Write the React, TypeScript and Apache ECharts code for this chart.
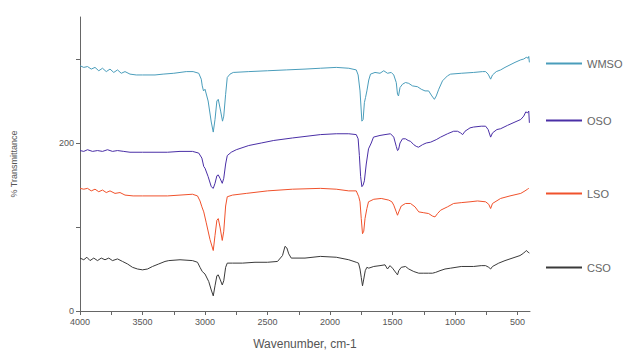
import React, { useEffect, useRef } from "react";
import * as echarts from "echarts";

const seriesNames = ["WMSO", "OSO", "LSO", "CSO"];
const xTickValues = [4000, 3750, 3500, 3250, 3000, 2750, 2500, 2250, 2000, 1750, 1500, 1250, 1000, 750, 500];
const xLabelValues = [4000, 3500, 3000, 2500, 2000, 1500, 1000, 500];
const yTickValues = [0, 100, 200, 300];
const yLabelValues = [0, 200];

const wmso: number[][] = [[4000,292],[3970,290],[3940,291],[3910,288],[3880,290],[3850,286],[3820,289],[3790,285],[3760,288],[3730,284],[3700,287],[3670,283],[3640,285],[3600,282],[3550,281],[3500,281],[3400,281],[3335,282],[3250,283],[3150,285],[3095,285],[3050,283],[3030,276],[3022,268],[3012,262],[3000,264],[2975,250],[2950,225],[2934,213],[2920,228],[2905,250],[2894,252],[2875,238],[2860,226],[2850,232],[2835,258],[2822,278],[2800,282],[2774,284],[2650,285],[2500,286],[2350,287],[2200,288],[2077,289],[1950,290],[1850,289],[1790,287],[1775,281],[1760,262],[1745,226],[1735,228],[1725,248],[1716,254],[1705,262],[1690,275],[1676,282],[1640,284],[1600,283],[1570,286],[1540,283],[1510,284],[1490,281],[1470,272],[1460,258],[1452,256],[1440,266],[1420,270],[1396,272],[1370,271],[1340,268],[1300,267],[1270,264],[1240,262],[1211,262],[1185,256],[1165,252],[1150,256],[1130,264],[1100,274],[1060,280],[1035,282],[950,283],[851,284],[780,285],[755,285],[735,282],[715,276],[700,281],[670,285],[635,287],[600,290],[560,293],[520,296],[474,299],[450,300],[430,302],[415,301],[410,303],[405,296]];

const oso: number[][] = [[4000,191],[3970,190],[3940,192],[3900,190],[3860,191],[3820,190],[3780,192],[3740,190],[3700,191],[3650,190],[3600,189],[3500,189],[3400,189],[3300,189],[3200,190],[3100,190],[3050,188],[3025,182],[3010,172],[3000,170],[2975,160],[2950,148],[2934,146],[2920,152],[2905,161],[2894,162],[2880,158],[2862,152],[2850,158],[2835,175],[2822,185],[2790,189],[2750,192],[2650,197],[2550,200],[2450,203],[2300,206],[2077,210],[1950,211],[1850,211],[1790,210],[1775,205],[1765,185],[1755,160],[1745,148],[1735,150],[1725,155],[1710,175],[1692,193],[1670,200],[1652,207],[1600,209],[1560,210],[1516,211],[1490,207],[1470,196],[1460,191],[1452,192],[1440,200],[1420,205],[1396,205],[1375,203],[1356,202],[1330,198],[1310,196],[1292,195],[1260,198],[1230,200],[1195,201],[1150,204],[1115,207],[1060,211],[1011,214],[980,214],[955,212],[939,210],[920,214],[880,218],[851,219],[790,220],[755,220],[735,216],[715,207],[700,212],[665,216],[635,217],[580,221],[520,225],[474,228],[450,232],[434,237],[420,236],[410,238],[405,224]];

const lso: number[][] = [[4000,146],[3970,145],[3940,146],[3910,143],[3880,145],[3850,142],[3820,144],[3790,141],[3760,143],[3720,140],[3680,141],[3640,138],[3575,137],[3500,137],[3400,137],[3300,137],[3200,138],[3100,139],[3060,137],[3040,131],[3025,124],[3010,118],[2990,105],[2960,85],[2934,72],[2920,90],[2905,108],[2894,110],[2880,100],[2862,84],[2850,95],[2835,125],[2822,136],[2780,138],[2670,140],[2500,143],[2300,145],[2077,146],[1950,145],[1850,143],[1790,143],[1770,136],[1760,130],[1750,110],[1740,92],[1730,95],[1720,110],[1705,122],[1692,130],[1650,133],[1590,134],[1530,132],[1505,130],[1490,126],[1470,118],[1460,114],[1450,118],[1430,125],[1396,128],[1356,128],[1320,124],[1290,118],[1250,117],[1211,116],[1180,113],[1160,112],[1140,116],[1115,120],[1060,124],[1011,128],[950,129],[880,130],[820,131],[755,130],[730,127],[715,122],[700,128],[635,134],[560,137],[474,140],[440,143],[420,145],[410,146]];

const cso: number[][] = [[4000,63],[3970,61],[3945,64],[3920,60],[3890,63],[3860,60],[3830,63],[3800,61],[3770,63],[3740,60],[3700,62],[3660,59],[3620,56],[3580,52],[3540,50],[3500,49],[3460,50],[3420,53],[3370,56],[3320,59],[3290,60],[3200,61],[3100,60],[3060,58],[3040,52],[3022,47],[3000,44],[2970,35],[2950,25],[2934,18],[2920,30],[2905,42],[2894,43],[2880,38],[2862,31],[2850,36],[2835,52],[2822,57],[2780,57],[2700,57],[2600,58],[2500,58],[2420,59],[2380,66],[2360,77],[2345,75],[2330,68],[2310,63],[2280,63],[2200,63],[2077,65],[1950,64],[1850,61],[1790,58],[1772,57],[1760,50],[1750,40],[1740,30],[1730,38],[1718,48],[1705,52],[1690,51],[1650,53],[1600,54],[1560,55],[1540,50],[1520,54],[1500,51],[1470,45],[1460,43],[1450,48],[1430,52],[1396,53],[1370,50],[1330,47],[1290,45],[1250,45],[1211,45],[1180,45],[1155,46],[1120,48],[1080,50],[1035,51],[950,53],[851,53],[790,54],[755,54],[730,52],[715,50],[700,53],[650,57],[600,60],[560,62],[520,64],[480,66],[450,69],[430,72],[415,70],[405,69]];

const seriesData = [wmso, oso, lso, cso];
const colors = ["#4a9dbb", "#4a2fa6", "#f0522c", "#3a3a3a"];
const legendTops = [53, 110, 183, 257];

export default function App() {
  const ref = useRef<HTMLDivElement>(null);
  useEffect(() => {
    if (!ref.current) return;
    const chart = echarts.init(ref.current, null, { renderer: "svg" });
    const font = "Arial, 'Liberation Sans', sans-serif";
    chart.setOption({
      animation: false,
      backgroundColor: "#ffffff",
      grid: { left: 80, right: 108, top: 17, bottom: 42, containLabel: false },
      xAxis: {
        type: "value",
        inverse: true,
        min: 400,
        max: 4000,
        name: "Wavenumber, cm-1",
        nameLocation: "middle",
        nameGap: 27,
        nameTextStyle: { fontSize: 12, color: "#555", fontFamily: font },
        axisLine: { show: true, lineStyle: { color: "#666", width: 1 } },
        axisTick: { show: true, length: 4, customValues: xTickValues, lineStyle: { color: "#666", width: 1 } },
        axisLabel: { show: true, customValues: xLabelValues, formatter: (v: number) => String(v), fontSize: 9, color: "#555", margin: 6, fontFamily: font },
        splitLine: { show: false },
      },
      yAxis: {
        type: "value",
        min: 0,
        max: 350,
        name: "% Transmittance",
        nameLocation: "middle",
        nameGap: 62,
        nameRotate: 90,
        nameTextStyle: { fontSize: 9, color: "#555", fontFamily: font },
        axisLine: { show: true, lineStyle: { color: "#666", width: 1 } },
        axisTick: { show: true, length: 4, customValues: yTickValues, lineStyle: { color: "#666", width: 1 } },
        axisLabel: { show: true, customValues: yLabelValues, formatter: (v: number) => String(v), fontSize: 9, color: "#555", margin: 6, fontFamily: font },
        splitLine: { show: false },
      },
      legend: seriesNames.map((n, i) => ({
        data: [n],
        left: 540,
        top: legendTops[i],
        itemWidth: 36,
        itemHeight: 10,
        itemStyle: { opacity: 0 },
        textStyle: { fontSize: 11, color: "#666", fontFamily: font },
      })),
      series: seriesNames.map((n, i) => ({
        name: n,
        type: "line",
        data: seriesData[i],
        symbol: "none",
        color: colors[i],
        lineStyle: { width: 1, color: colors[i] },
      })),
    });
    return () => chart.dispose();
  }, []);
  return <div ref={ref} style={{ width: 638, height: 355, position: "absolute", left: 0, top: 0 }} />;
}
